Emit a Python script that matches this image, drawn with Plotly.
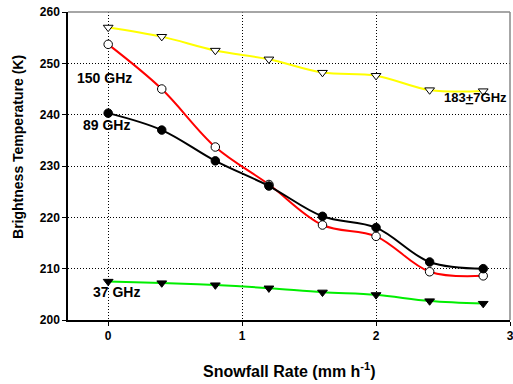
import plotly.graph_objects as go

snowfall = [0, 0.4, 0.8, 1.2, 1.6, 2.0, 2.4, 2.8]
tb_183 = [257.0, 255.2, 252.5, 250.8, 248.2, 247.6, 244.8, 244.6]
tb_150 = [253.7, 245.0, 233.7, 226.4, 218.5, 216.3, 209.4, 208.6]
tb_89 = [240.3, 237.0, 231.0, 226.1, 220.2, 218.0, 211.3, 210.0]
tb_37 = [207.5, 207.2, 206.8, 206.2, 205.4, 204.9, 203.7, 203.2]

x_ticks = [0, 1, 2, 3]
y_ticks = [200, 210, 220, 230, 240, 250, 260]

series = [
    ("183+7 GHz", tb_183, "#ffff00", "triangle-down", True),
    ("150 GHz", tb_150, "#ff0000", "circle", True),
    ("89 GHz", tb_89, "#000000", "circle", False),
    ("37 GHz", tb_37, "#00ee00", "triangle-down", False),
]

fig = go.Figure()
for name, ys, col, sym, hollow in series:
    fig.add_trace(go.Scatter(
        x=snowfall, y=ys, mode="lines", name=name,
        line=dict(color=col, width=2, shape="spline", smoothing=1.0),
        hoverinfo="skip", showlegend=False))
for name, ys, col, sym, hollow in series:
    marker = dict(size=8.5, symbol=sym, color="white" if hollow else "black",
                  line=dict(color="black", width=1))
    fig.add_trace(go.Scatter(x=snowfall, y=ys, mode="markers", marker=marker,
                             showlegend=False, name=name))

font = "Arial, Liberation Sans, sans-serif"
fig.update_layout(
    width=513, height=384,
    margin=dict(l=68, r=3, t=12, b=64),
    paper_bgcolor="white", plot_bgcolor="white",
    font=dict(family=font, color="black"),
    showlegend=False,
)
dot = "1px,2px"
fig.update_xaxes(
    range=[-0.3, 3], tickvals=x_ticks, ticktext=["<b>%d</b>" % v for v in x_ticks],
    tickfont=dict(size=12), ticks="outside", ticklen=4, tickcolor="black",
    showline=True, linecolor="black", linewidth=1.5,
    showgrid=True, gridcolor="black", griddash=dot, gridwidth=1,
    zeroline=False, automargin=False, ticklabeloverflow="allow",
)
fig.update_yaxes(
    range=[200, 260], tickvals=y_ticks,
    ticktext=["<b>%d</b>" % v for v in y_ticks],
    tickfont=dict(size=12), ticks="outside", ticklen=4, tickcolor="black",
    showline=True, linecolor="black", linewidth=1.5,
    showgrid=True, gridcolor="black", griddash=dot, gridwidth=1,
    zeroline=False, automargin=False, ticklabeloverflow="allow",
)
# gray frame top/right
fig.add_shape(type="line", xref="paper", yref="paper", x0=0, x1=1, y0=1, y1=1,
              line=dict(color="#888888", width=1.5))
fig.add_shape(type="line", xref="paper", yref="paper", x0=1, x1=1, y0=0, y1=1,
              line=dict(color="#888888", width=1.5))

# axis titles
fig.add_annotation(xref="paper", yref="paper", x=0.5, y=-0.162, text="<b>Snowfall Rate (mm h<sup>-1</sup>)</b>",
                   showarrow=False, xanchor="center", yanchor="middle",
                   font=dict(size=16, color="black", family=font))
fig.add_annotation(xref="paper", yref="paper", x=-0.113, y=0.562, text="<b>Brightness Temperature (K)</b>",
                   showarrow=False, xanchor="center", yanchor="middle", textangle=-90,
                   font=dict(size=14, color="black", family=font))

labels = [
    ("<b>150 GHz</b>", -0.03, 247.1, "center", 14),
    ("<b>89 GHz</b>", -0.01, 238.0, "center", 14),
    ("<b>37 GHz</b>", 0.06, 205.4, "center", 14),
    ("<b>183<u>+</u>7GHz</b>", 2.49, 243.4, "left", 13),
]
for txt, x, y, anc, sz in labels:
    fig.add_annotation(x=x, y=y, text=txt, showarrow=False, xanchor=anc, yanchor="middle",
                       font=dict(size=sz, color="black", family=font))

fig.write_html("out.html", config={"displayModeBar": False},
               post_script="document.body.style.margin='0';")
